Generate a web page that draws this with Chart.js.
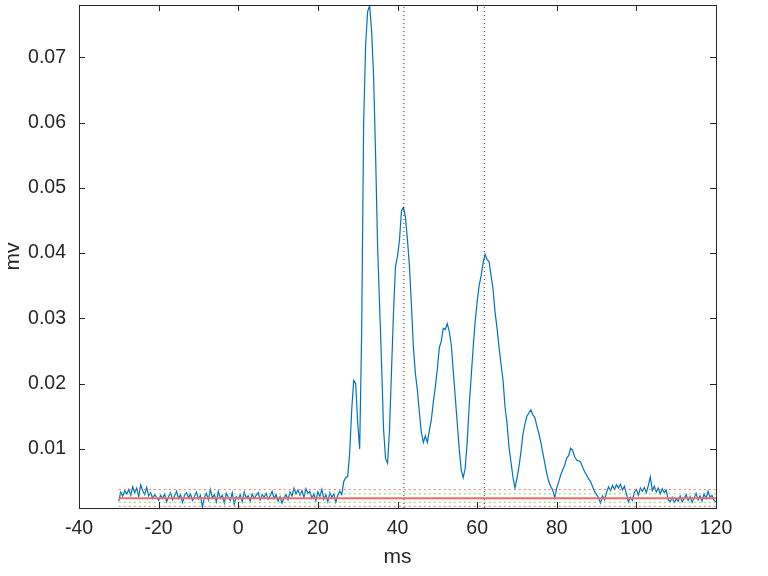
<!DOCTYPE html>
<html>
  <head>
    <title>Evoked response</title>
    <script src="https://cdn.jsdelivr.net/npm/chart.js"></script>
    <style>
      body {
        margin: 0;
        background: #ffffff;
      }
    </style>
  </head>

  <body>
    <canvas id="myChart" width="768" height="576"></canvas>

    <script>
      // time axis (ms), 0.5 ms per sample
      const timeMs = [
        -30, -29.5, -29, -28.5, -28, -27.5, -27, -26.5, -26, -25.5,
        -25, -24.5, -24, -23.5, -23, -22.5, -22, -21.5, -21, -20.5,
        -20, -19.5, -19, -18.5, -18, -17.5, -17, -16.5, -16, -15.5,
        -15, -14.5, -14, -13.5, -13, -12.5, -12, -11.5, -11, -10.5,
        -10, -9.5, -9, -8.5, -8, -7.5, -7, -6.5, -6, -5.5,
        -5, -4.5, -4, -3.5, -3, -2.5, -2, -1.5, -1, -0.5,
        0, 0.5, 1, 1.5, 2, 2.5, 3, 3.5, 4, 4.5,
        5, 5.5, 6, 6.5, 7, 7.5, 8, 8.5, 9, 9.5,
        10, 10.5, 11, 11.5, 12, 12.5, 13, 13.5, 14, 14.5,
        15, 15.5, 16, 16.5, 17, 17.5, 18, 18.5, 19, 19.5,
        20, 20.5, 21, 21.5, 22, 22.5, 23, 23.5, 24, 24.5,
        25, 25.5, 26, 26.5, 27, 27.5, 28, 28.5, 29, 29.5,
        30, 30.5, 31, 31.5, 32, 32.5, 33, 33.5, 34, 34.5,
        35, 35.5, 36, 36.5, 37, 37.5, 38, 38.5, 39, 39.5,
        40, 40.5, 41, 41.5, 42, 42.5, 43, 43.5, 44, 44.5,
        45, 45.5, 46, 46.5, 47, 47.5, 48, 48.5, 49, 49.5,
        50, 50.5, 51, 51.5, 52, 52.5, 53, 53.5, 54, 54.5,
        55, 55.5, 56, 56.5, 57, 57.5, 58, 58.5, 59, 59.5,
        60, 60.5, 61, 61.5, 62, 62.5, 63, 63.5, 64, 64.5,
        65, 65.5, 66, 66.5, 67, 67.5, 68, 68.5, 69, 69.5,
        70, 70.5, 71, 71.5, 72, 72.5, 73, 73.5, 74, 74.5,
        75, 75.5, 76, 76.5, 77, 77.5, 78, 78.5, 79, 79.5,
        80, 80.5, 81, 81.5, 82, 82.5, 83, 83.5, 84, 84.5,
        85, 85.5, 86, 86.5, 87, 87.5, 88, 88.5, 89, 89.5,
        90, 90.5, 91, 91.5, 92, 92.5, 93, 93.5, 94, 94.5,
        95, 95.5, 96, 96.5, 97, 97.5, 98, 98.5, 99, 99.5,
        100, 100.5, 101, 101.5, 102, 102.5, 103, 103.5, 104, 104.5,
        105, 105.5, 106, 106.5, 107, 107.5, 108, 108.5, 109, 109.5,
        110, 110.5, 111, 111.5, 112, 112.5, 113, 113.5, 114, 114.5,
        115, 115.5, 116, 116.5, 117, 117.5, 118, 118.5, 119, 119.5,
        120,
      ];

      // averaged response (mv)
      const signalMv = [
        0.0020, 0.0034, 0.0028, 0.0036, 0.0031, 0.0038, 0.0029, 0.0042, 0.0033, 0.0040,
        0.0027, 0.0045, 0.0036, 0.0030, 0.0041, 0.0028, 0.0033, 0.0024, 0.0030, 0.0026,
        0.0021, 0.0029, 0.0024, 0.0031, 0.0019, 0.0027, 0.0033, 0.0022, 0.0028, 0.0035,
        0.0024, 0.0030, 0.0018, 0.0029, 0.0033, 0.0025, 0.0031, 0.0021, 0.0027, 0.0034,
        0.0023, 0.0029, 0.0011, 0.0026, 0.0032, 0.0022, 0.0038, 0.0025, 0.0030, 0.0019,
        0.0035, 0.0024, 0.0029, 0.0017, 0.0032, 0.0026, 0.0021, 0.0033, 0.0015, 0.0027,
        0.0023, 0.0030, 0.0019, 0.0034, 0.0025, 0.0028, 0.0020, 0.0031, 0.0024, 0.0029,
        0.0033, 0.0022, 0.0030, 0.0026, 0.0032, 0.0023, 0.0028, 0.0035, 0.0024, 0.0030,
        0.0020, 0.0027, 0.0017, 0.0025, 0.0030, 0.0022, 0.0034, 0.0028, 0.0040, 0.0031,
        0.0037, 0.0029, 0.0036, 0.0026, 0.0039, 0.0032, 0.0035, 0.0024, 0.0031, 0.0021,
        0.0034, 0.0027, 0.0038, 0.0023, 0.0030, 0.0019, 0.0033, 0.0026, 0.0031, 0.0018,
        0.0029, 0.0035, 0.0030, 0.0050, 0.0056, 0.0058, 0.0095, 0.0160, 0.0205, 0.0200,
        0.0140, 0.0100, 0.0280, 0.0600, 0.0720, 0.0770, 0.0779, 0.0740, 0.0670, 0.0550,
        0.0410, 0.0320, 0.0230, 0.0130, 0.0085, 0.0078, 0.0130, 0.0220, 0.0310, 0.0380,
        0.0395, 0.0420, 0.0465, 0.0470, 0.0455, 0.0420, 0.0380, 0.0320, 0.0255, 0.0215,
        0.0190, 0.0155, 0.0125, 0.0110, 0.0120, 0.0110, 0.0128, 0.0145, 0.0172, 0.0195,
        0.0222, 0.0255, 0.0265, 0.0285, 0.0283, 0.0292, 0.0280, 0.0260, 0.0220, 0.0180,
        0.0140, 0.0100, 0.0068, 0.0056, 0.0070, 0.0110, 0.0165, 0.0210, 0.0255, 0.0295,
        0.0325, 0.0350, 0.0365, 0.0385, 0.0398, 0.0390, 0.0387, 0.0365, 0.0345, 0.0310,
        0.0285, 0.0256, 0.0230, 0.0206, 0.0165, 0.0140, 0.0103, 0.0080, 0.0057, 0.0040,
        0.0055, 0.0072, 0.0095, 0.0122, 0.0138, 0.0150, 0.0155, 0.0160, 0.0152, 0.0148,
        0.0135, 0.0124, 0.0110, 0.0094, 0.0078, 0.0062, 0.0050, 0.0042, 0.0037, 0.0025,
        0.0040, 0.0050, 0.0060, 0.0068, 0.0075, 0.0086, 0.0090, 0.0101, 0.0098, 0.0088,
        0.0083, 0.0082, 0.0080, 0.0072, 0.0065, 0.0060, 0.0054, 0.0050, 0.0042, 0.0035,
        0.0030, 0.0025, 0.0017, 0.0028, 0.0022, 0.0033, 0.0042, 0.0036, 0.0044, 0.0038,
        0.0045, 0.0040, 0.0046, 0.0037, 0.0043, 0.0031, 0.0019, 0.0026, 0.0021, 0.0034,
        0.0038, 0.0029, 0.0040, 0.0035, 0.0041, 0.0033, 0.0044, 0.0057, 0.0036, 0.0043,
        0.0034, 0.0040, 0.0031, 0.0039, 0.0033, 0.0037, 0.0022, 0.0019, 0.0026, 0.0018,
        0.0023, 0.0020, 0.0028, 0.0019, 0.0024, 0.0030, 0.0021, 0.0027, 0.0018, 0.0025,
        0.0032, 0.0022, 0.0028, 0.0020, 0.0031, 0.0024, 0.0035, 0.0026, 0.0029, 0.0021,
        0.0019,
      ];

      // baseline statistics drawn as horizontal lines
      const meanLevel = 0.00244;
      const innerBand = [0.00183, 0.00311];
      const outerBand = [0.00121, 0.00377];
      const bandSpanMs = [-30, 120];

      // vertical markers (ms)
      const markerMs = [41.6, 61.8];

      const xTicks = [-40, -20, 0, 20, 40, 60, 80, 100, 120];
      const yTicks = [0.01, 0.02, 0.03, 0.04, 0.05, 0.06, 0.07];
      const xRange = [-40, 120];
      const yRange = [0.00095, 0.078];

      const FONT = "'Liberation Sans', Arial, sans-serif";
      const AXIS_COLOR = "#262626";

      function hLine(level, color, width, dash, order) {
        return {
          data: [
            { x: bandSpanMs[0], y: level },
            { x: bandSpanMs[1], y: level },
          ],
          borderColor: color,
          borderWidth: width,
          borderDash: dash,
          pointRadius: 0,
          order: order,
        };
      }

      function vLine(ms) {
        return {
          data: [
            { x: ms, y: yRange[0] },
            { x: ms, y: yRange[1] },
          ],
          borderColor: "#333333",
          borderWidth: 1,
          borderDash: [1, 3],
          pointRadius: 0,
          order: 2,
        };
      }

      const datasets = [
        {
          data: signalMv.map((v, i) => ({ x: timeMs[i], y: v })),
          borderColor: "#0072BD",
          borderWidth: 1.2,
          pointRadius: 0,
          tension: 0,
          order: 5,
        },
        hLine(outerBand[0], "#ff7070", 1, [2, 3], 1),
        hLine(outerBand[1], "#ff7070", 1, [2, 3], 1),
        hLine(innerBand[0], "#5fe85f", 1, [2, 3], 1),
        hLine(innerBand[1], "#5fe85f", 1, [2, 3], 1),
        hLine(meanLevel, "#f26a6a", 2, [], 0),
      ];
      markerMs.forEach((m) => datasets.push(vLine(m)));

      // box with inward ticks on all four sides
      const boxTicks = {
        id: "boxTicks",
        afterDatasetsDraw(chart) {
          const { ctx, chartArea, scales } = chart;
          const { left, right, top, bottom } = chartArea;
          const len = 6;
          ctx.save();
          ctx.strokeStyle = AXIS_COLOR;
          ctx.lineWidth = 1;
          ctx.beginPath();
          xTicks.forEach((v) => {
            const px = Math.round(scales.x.getPixelForValue(v)) + 0.5;
            ctx.moveTo(px, bottom);
            ctx.lineTo(px, bottom - len);
            ctx.moveTo(px, top);
            ctx.lineTo(px, top + len);
          });
          yTicks.forEach((v) => {
            const py = Math.round(scales.y.getPixelForValue(v)) + 0.5;
            ctx.moveTo(left, py);
            ctx.lineTo(left + len, py);
            ctx.moveTo(right, py);
            ctx.lineTo(right - len, py);
          });
          ctx.stroke();
          ctx.strokeRect(
            Math.round(left) + 0.5,
            Math.round(top) + 0.5,
            Math.round(right - left),
            Math.round(bottom - top)
          );
          ctx.restore();
        },
      };

      const config = {
        type: "line",
        data: { datasets: datasets },
        options: {
          responsive: false,
          animation: false,
          layout: { padding: { top: 5, right: 52, bottom: 0, left: 0 } },
          plugins: {
            legend: { display: false },
            tooltip: { enabled: false },
          },
          scales: {
            x: {
              type: "linear",
              min: xRange[0],
              max: xRange[1],
              afterBuildTicks: (scale) => {
                scale.ticks = xTicks.map((v) => ({ value: v }));
              },
              afterFit: (scale) => {
                scale.height = 68;
                scale.paddingLeft = 0;
                scale.paddingRight = 0;
              },
              grid: { display: false, drawTicks: false },
              border: { display: false },
              ticks: {
                padding: 9,
                color: AXIS_COLOR,
                font: { family: FONT, size: 19.5 },
                maxRotation: 0,
                callback: (v) => String(v),
              },
              title: {
                display: true,
                text: "ms",
                color: AXIS_COLOR,
                font: { family: FONT, size: 21 },
                padding: { top: 0, bottom: 6 },
              },
            },
            y: {
              type: "linear",
              min: yRange[0],
              max: yRange[1],
              afterBuildTicks: (scale) => {
                scale.ticks = yTicks.map((v) => ({ value: v }));
              },
              afterFit: (scale) => {
                scale.width = 79;
                scale.paddingTop = 0;
                scale.paddingBottom = 0;
              },
              grid: { display: false, drawTicks: false },
              border: { display: false },
              ticks: {
                padding: 13,
                color: AXIS_COLOR,
                font: { family: FONT, size: 19.5 },
                callback: (v) => v.toFixed(2),
              },
              title: {
                display: true,
                text: "mv",
                color: AXIS_COLOR,
                font: { family: FONT, size: 21 },
                padding: { top: 1, bottom: 0 },
              },
            },
          },
        },
        plugins: [boxTicks],
      };

      const myChart = new Chart(document.getElementById("myChart"), config);
    </script>
  </body>
</html>
